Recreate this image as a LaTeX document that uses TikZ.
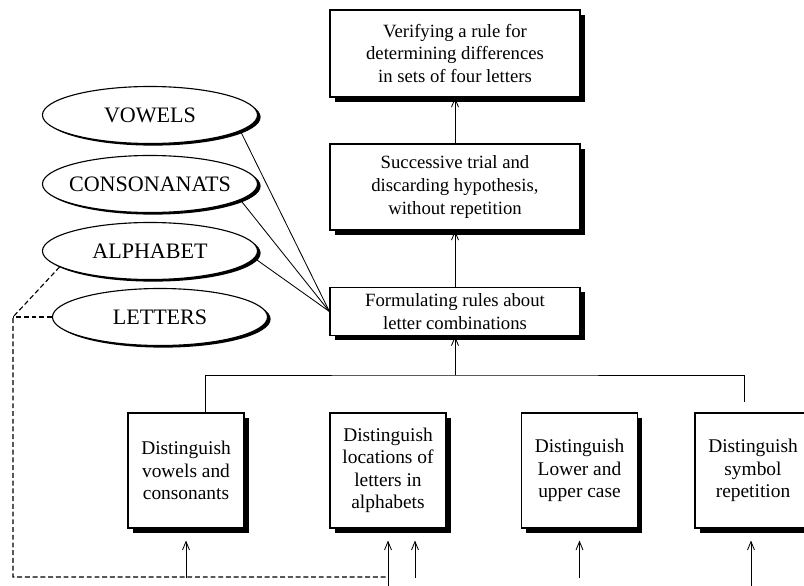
\documentclass[tikz,border=0pt]{standalone}
\usepackage{fontspec}
\setmainfont{Liberation Serif}
\usetikzlibrary{arrows.meta,shapes.geometric,shadows,calc}

\begin{document}
\begin{tikzpicture}[x=0.025cm,y=-0.025cm,line width=0.6pt,
    box/.style={draw,line width=0.8pt,fill=white,align=center,minimum width=6.25cm,
      font=\fontsize{13.3}{16.3}\selectfont,
      drop shadow={fill=black,opacity=1,shadow xshift=3.5pt,shadow yshift=-3.5pt}},
    lowbox/.style={box,minimum width=2.9cm,minimum height=2.875cm,
      font=\fontsize{13.8}{16}\selectfont},
    ell/.style={ellipse,draw,line width=0.8pt,fill=white,minimum width=5.375cm,
      minimum height=1.425cm,inner xsep=-9pt,inner ysep=0pt,
      font=\fontsize{15.7}{18}\selectfont,
      drop shadow={fill=black,opacity=1,shadow xshift=2.2pt,shadow yshift=-1.5pt}},
    arr/.style={-{Straight Barb[length=6pt,width=5pt]}},
    dsh/.style={line width=0.8pt,dash pattern=on 3.5pt off 2pt}]
  \useasboundingbox[fill=white] (0,0) rectangle (804,586);

  \node[box,minimum height=2.175cm] (verify) at (455,53.5) {Verifying a rule for\\determining differences\\in sets of four letters};
  \node[box,minimum height=2.15cm] (trial) at (455,187) {Successive trial and\\discarding hypothesis,\\without repetition};
  \node[box,minimum height=1.2cm] (rules) at (455,311.5) {Formulating rules about\\letter combinations};

  \node[lowbox] (dist1) at (186,470.5) {Distinguish\\vowels and\\consonants};
  \node[lowbox] (dist2) at (388,470.5) {Distinguish\\locations of\\letters in\\alphabets};
  \node[lowbox] (dist3) at (579.5,470.5) {Distinguish\\Lower and\\upper case};
  \node[lowbox] (dist4) at (753,470.5) {Distinguish\\symbol\\repetition};

  \node[ell] (vowels) at (150,115) {VOWELS};
  \node[ell] (consonants) at (150,184) {CONSONANATS};
  \node[ell] (alphabet) at (150,251) {ALPHABET};
  \node[ell] (letters) at (160,317) {LETTERS};

  \draw[arr] (trial) -- (verify);
  \draw[arr] (rules) -- (trial);

  \coordinate (hub) at (455,375);
  \draw ($(dist1.north)+(19,0)$) |- (hub) -| ($(dist4.north)+(-9,-10)$);
  \draw[arr] (hub) -- (rules);

  \draw (vowels.-10) -- (rules.west);
  \draw (consonants.-10) -- (rules.west);
  \draw (alphabet.-4) -- (rules.west);

  \coordinate (bend) at (13,317);
  \coordinate (corner) at (13,577);
  \coordinate (tail) at (388,577);
  \draw[dsh] (alphabet.190) -- (bend) -- (corner) -- (tail);
  \draw[dsh] (letters) -- (bend);

  \foreach \x/\y/\n in {186/578/dist1,388/586/dist2,415/578/dist2,579.5/578/dist3,751/586/dist4} {
    \draw[arr,shorten >=8.5pt] (\x,\y) -- (\x,\y |- \n.south);
  }
\end{tikzpicture}
\end{document}
